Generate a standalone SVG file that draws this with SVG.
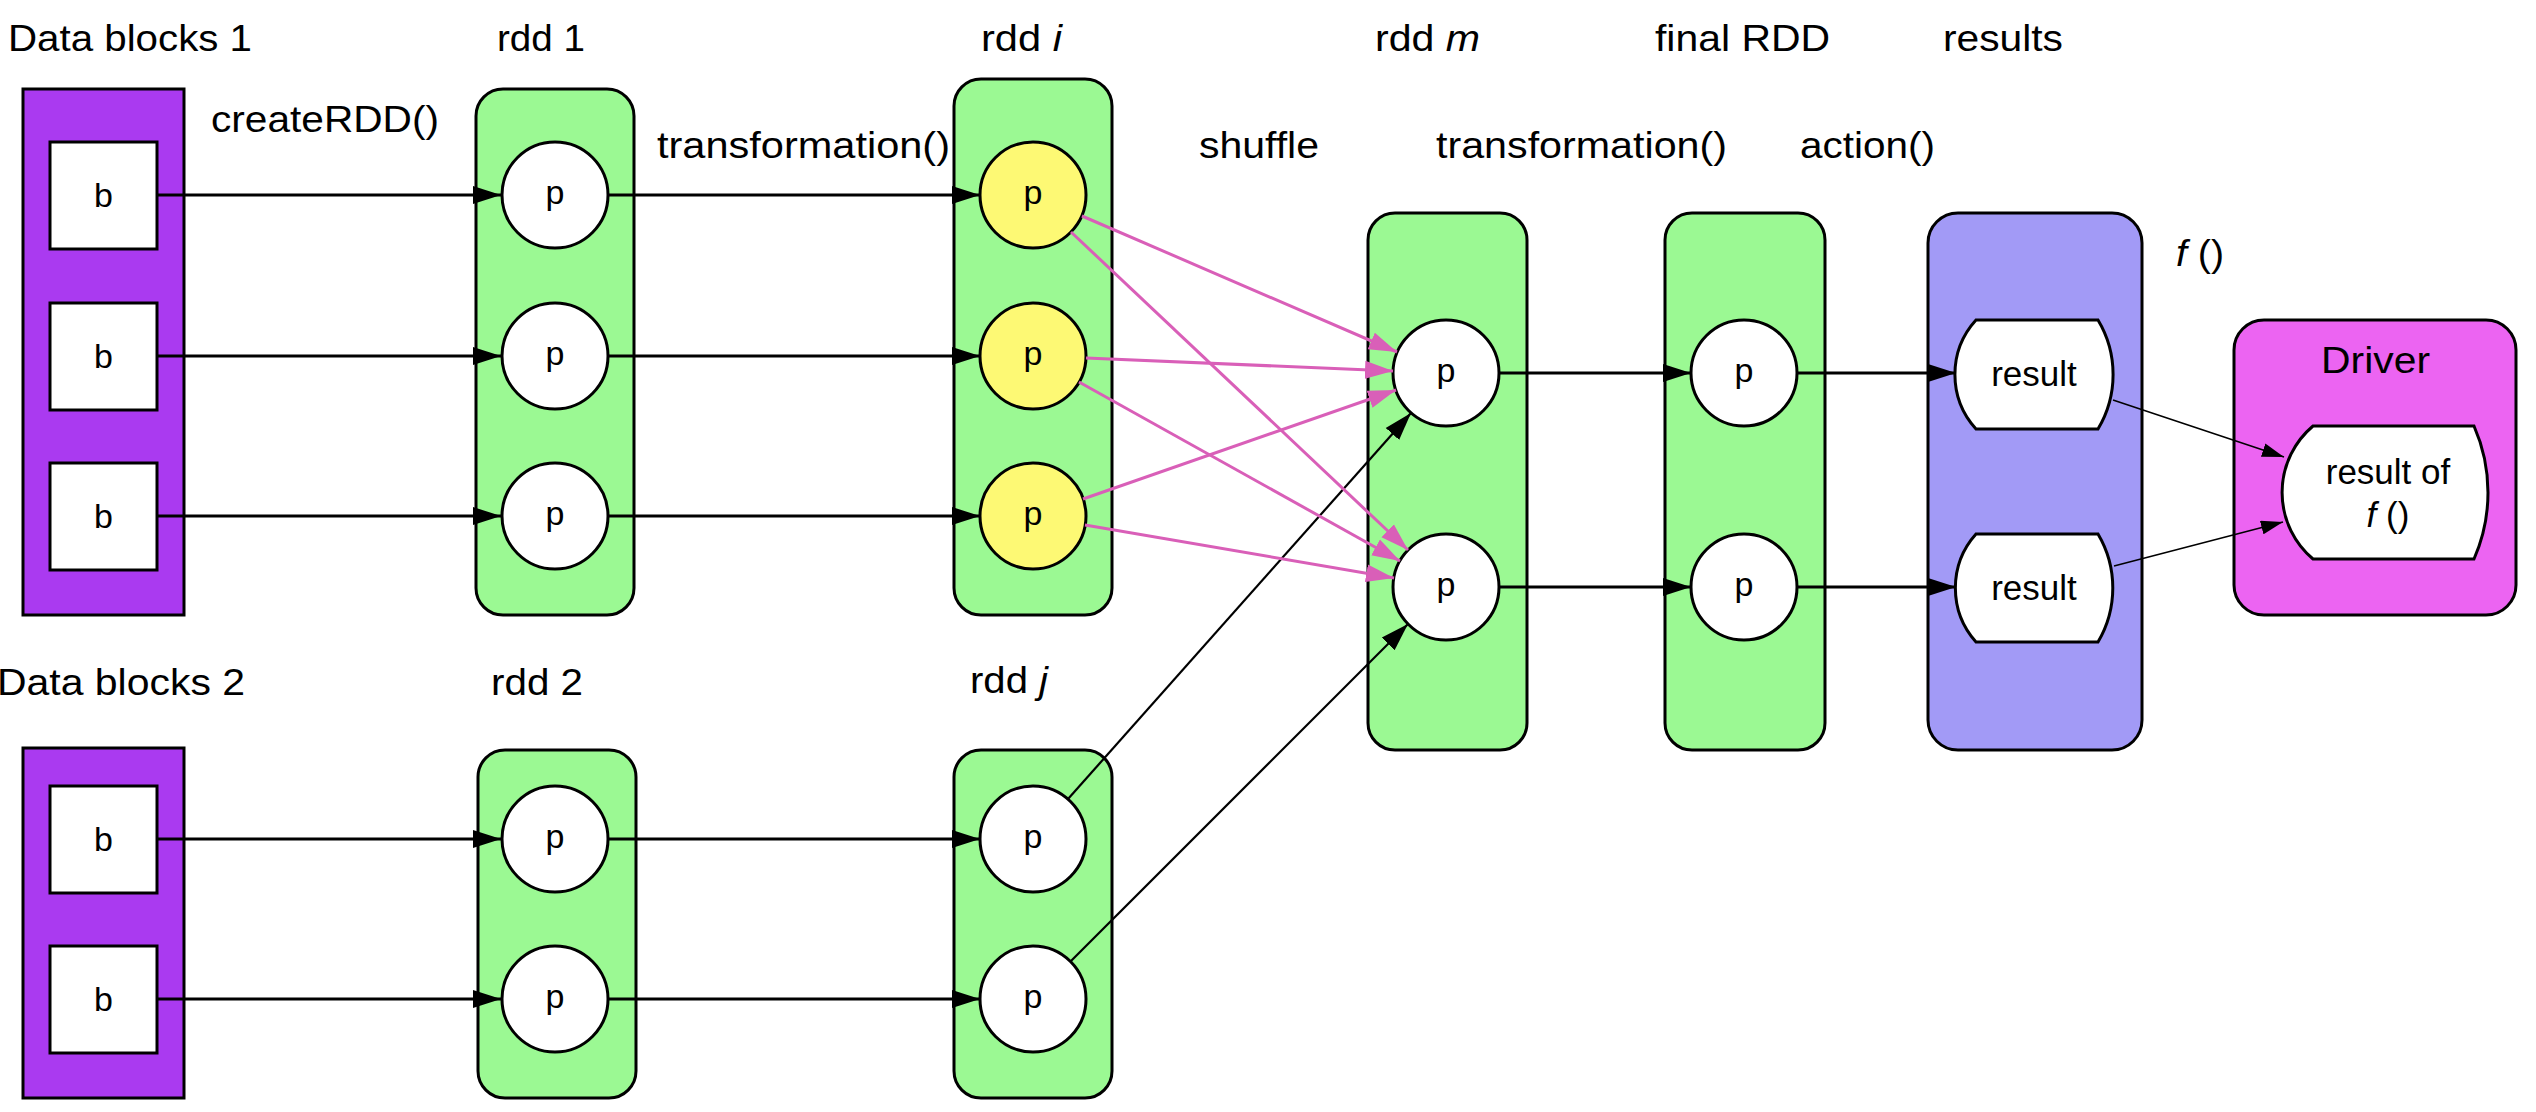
<svg xmlns="http://www.w3.org/2000/svg" width="2536" height="1112" viewBox="0 0 2536 1112">
<style>
text{font-family:"Liberation Sans",Arial,sans-serif;fill:#000}
.lbl{font-size:37px}
.in{font-size:34px;text-anchor:middle}
.rs{font-size:35px;text-anchor:middle}
.blk{fill:#aa3af0;stroke:#000;stroke-width:3}
.box{fill:#fff;stroke:#000;stroke-width:3}
.rdd{fill:#9bf993;stroke:#000;stroke-width:3}
.res{fill:#a29af6;stroke:#000;stroke-width:3}
.drv{fill:#ec64f2;stroke:#000;stroke-width:3}
.pw{fill:#fff;stroke:#000;stroke-width:3}
.py{fill:#fdf974;stroke:#000;stroke-width:3}
.a{stroke:#000;stroke-width:3;fill:none}
.a2{stroke:#000;stroke-width:2.2;fill:none}
.a3{stroke:#000;stroke-width:1.5;fill:none}
.pk{stroke:#d95fb8;stroke-width:3;fill:none}
</style>
<defs>
<marker id="ah" markerUnits="userSpaceOnUse" markerWidth="28" markerHeight="20" refX="28" refY="10" orient="auto"><path d="M0,1 L28,10 L0,19 z" fill="#000"/></marker>
<marker id="ahp" markerUnits="userSpaceOnUse" markerWidth="28" markerHeight="20" refX="28" refY="10" orient="auto"><path d="M0,1 L28,10 L0,19 z" fill="#d95fb8"/></marker>
<marker id="ahs" markerUnits="userSpaceOnUse" markerWidth="22" markerHeight="14" refX="22" refY="7" orient="auto"><path d="M0,0 L22,7 L0,14 z" fill="#000"/></marker>
</defs>

<g id="labels">
<text class="lbl" x="8" y="51" textLength="244" lengthAdjust="spacingAndGlyphs">Data blocks 1</text>
<text class="lbl" x="497" y="51" textLength="88" lengthAdjust="spacingAndGlyphs">rdd 1</text>
<text class="lbl" x="981" y="51" textLength="81" lengthAdjust="spacingAndGlyphs">rdd <tspan font-style="italic">i</tspan></text>
<text class="lbl" x="1375" y="51" textLength="105" lengthAdjust="spacingAndGlyphs">rdd <tspan font-style="italic">m</tspan></text>
<text class="lbl" x="1655" y="51" textLength="175" lengthAdjust="spacingAndGlyphs">final RDD</text>
<text class="lbl" x="1943" y="51" textLength="120" lengthAdjust="spacingAndGlyphs">results</text>
<text class="lbl" x="211" y="132" textLength="228" lengthAdjust="spacingAndGlyphs">createRDD()</text>
<text class="lbl" x="657" y="158" textLength="293" lengthAdjust="spacingAndGlyphs">transformation()</text>
<text class="lbl" x="1199" y="158" textLength="120" lengthAdjust="spacingAndGlyphs">shuffle</text>
<text class="lbl" x="1436" y="158" textLength="291" lengthAdjust="spacingAndGlyphs">transformation()</text>
<text class="lbl" x="1800" y="158" textLength="135" lengthAdjust="spacingAndGlyphs">action()</text>
<text class="lbl" x="2176" y="266" textLength="48" lengthAdjust="spacingAndGlyphs"><tspan font-style="italic">f</tspan> ()</text>
<text class="lbl" x="-3" y="695" textLength="248" lengthAdjust="spacingAndGlyphs">Data blocks 2</text>
<text class="lbl" x="491" y="695" textLength="92" lengthAdjust="spacingAndGlyphs">rdd 2</text>
<text class="lbl" x="970" y="693" textLength="78" lengthAdjust="spacingAndGlyphs">rdd <tspan font-style="italic">j</tspan></text>
</g>

<g id="datablocks1">
<rect class="blk" x="23" y="89" width="161" height="526"/>
<rect class="box" x="50" y="142" width="107" height="107"/><text class="in" x="103.5" y="207">b</text>
<rect class="box" x="50" y="303" width="107" height="107"/><text class="in" x="103.5" y="368">b</text>
<rect class="box" x="50" y="463" width="107" height="107"/><text class="in" x="103.5" y="528">b</text>
</g>

<g id="rdd1">
<rect class="rdd" x="476" y="89" width="158" height="526" rx="27"/>
<circle class="pw" cx="555" cy="195" r="53"/><text class="in" x="555" y="204">p</text>
<circle class="pw" cx="555" cy="356" r="53"/><text class="in" x="555" y="365">p</text>
<circle class="pw" cx="555" cy="516" r="53"/><text class="in" x="555" y="525">p</text>
</g>

<g id="rddi">
<rect class="rdd" x="954" y="79" width="158" height="536" rx="27"/>
<circle class="py" cx="1033" cy="195" r="53"/><text class="in" x="1033" y="204">p</text>
<circle class="py" cx="1033" cy="356" r="53"/><text class="in" x="1033" y="365">p</text>
<circle class="py" cx="1033" cy="516" r="53"/><text class="in" x="1033" y="525">p</text>
</g>

<g id="rddm">
<rect class="rdd" x="1368" y="213" width="159" height="537" rx="27"/>
<circle class="pw" cx="1446" cy="373" r="53"/><text class="in" x="1446" y="382">p</text>
<circle class="pw" cx="1446" cy="587" r="53"/><text class="in" x="1446" y="596">p</text>
</g>

<g id="finalrdd">
<rect class="rdd" x="1665" y="213" width="160" height="537" rx="27"/>
<circle class="pw" cx="1744" cy="373" r="53"/><text class="in" x="1744" y="382">p</text>
<circle class="pw" cx="1744" cy="587" r="53"/><text class="in" x="1744" y="596">p</text>
</g>

<g id="results">
<rect class="res" x="1928" y="213" width="214" height="537" rx="30"/>
<path class="box" d="M1976,320 L2098,320 A106 106 0 0 1 2098,429 L1976,429 A81 81 0 0 1 1976,320 Z"/>
<text class="rs" x="2034" y="386">result</text>
<path class="box" d="M1976,534 L2098,534 A106 106 0 0 1 2098,642 L1976,642 A81 81 0 0 1 1976,534 Z"/>
<text class="rs" x="2034" y="600">result</text>
</g>

<g id="driver">
<rect class="drv" x="2234" y="320" width="282" height="295" rx="30"/>
<text class="lbl" x="2321" y="373" textLength="109" lengthAdjust="spacingAndGlyphs">Driver</text>
<path class="box" d="M2313,426 L2474,426 A165 165 0 0 1 2474,559 L2313,559 A87 87 0 0 1 2313,426 Z"/>
<text class="rs" x="2388" y="484">result of</text>
<text class="rs" x="2388" y="527"><tspan font-style="italic">f</tspan> ()</text>
</g>

<g id="datablocks2">
<rect class="blk" x="23" y="748" width="161" height="350"/>
<rect class="box" x="50" y="786" width="107" height="107"/><text class="in" x="103.5" y="851">b</text>
<rect class="box" x="50" y="946" width="107" height="107"/><text class="in" x="103.5" y="1011">b</text>
</g>

<g id="rdd2">
<rect class="rdd" x="478" y="750" width="158" height="348" rx="27"/>
<circle class="pw" cx="555" cy="839" r="53"/><text class="in" x="555" y="848">p</text>
<circle class="pw" cx="555" cy="999" r="53"/><text class="in" x="555" y="1008">p</text>
</g>

<g id="rddj">
<rect class="rdd" x="954" y="750" width="158" height="348" rx="27"/>
<circle class="pw" cx="1033" cy="839" r="53"/><text class="in" x="1033" y="848">p</text>
<circle class="pw" cx="1033" cy="999" r="53"/><text class="in" x="1033" y="1008">p</text>
</g>

<g id="connectors">
<line class="a" x1="157" y1="195" x2="501" y2="195" marker-end="url(#ah)"/>
<line class="a" x1="157" y1="356" x2="501" y2="356" marker-end="url(#ah)"/>
<line class="a" x1="157" y1="516" x2="501" y2="516" marker-end="url(#ah)"/>
<line class="a" x1="608" y1="195" x2="980" y2="195" marker-end="url(#ah)"/>
<line class="a" x1="608" y1="356" x2="980" y2="356" marker-end="url(#ah)"/>
<line class="a" x1="608" y1="516" x2="980" y2="516" marker-end="url(#ah)"/>
<line class="a" x1="157" y1="839" x2="501" y2="839" marker-end="url(#ah)"/>
<line class="a" x1="157" y1="999" x2="501" y2="999" marker-end="url(#ah)"/>
<line class="a" x1="608" y1="839" x2="980" y2="839" marker-end="url(#ah)"/>
<line class="a" x1="608" y1="999" x2="980" y2="999" marker-end="url(#ah)"/>
<line class="a" x1="1499" y1="373" x2="1691" y2="373" marker-end="url(#ah)"/>
<line class="a" x1="1499" y1="587" x2="1691" y2="587" marker-end="url(#ah)"/>
<line class="a" x1="1797" y1="373" x2="1956" y2="373" marker-end="url(#ah)"/>
<line class="a" x1="1797" y1="587" x2="1956" y2="587" marker-end="url(#ah)"/>
<line class="a2" x1="1068" y1="799" x2="1411" y2="413" marker-end="url(#ah)"/>
<line class="a2" x1="1070" y1="962" x2="1408" y2="624" marker-end="url(#ah)"/>
<line class="pk" x1="1082" y1="216" x2="1397" y2="352" marker-end="url(#ahp)"/>
<line class="pk" x1="1071" y1="232" x2="1408" y2="550" marker-end="url(#ahp)"/>
<line class="pk" x1="1086" y1="358" x2="1393" y2="371" marker-end="url(#ahp)"/>
<line class="pk" x1="1079" y1="382" x2="1400" y2="561" marker-end="url(#ahp)"/>
<line class="pk" x1="1083" y1="499" x2="1396" y2="390" marker-end="url(#ahp)"/>
<line class="pk" x1="1085" y1="525" x2="1394" y2="578" marker-end="url(#ahp)"/>
<line class="a3" x1="2113" y1="400" x2="2284" y2="457" marker-end="url(#ahs)"/>
<line class="a3" x1="2114" y1="566" x2="2283" y2="522" marker-end="url(#ahs)"/>
</g>
</svg>
